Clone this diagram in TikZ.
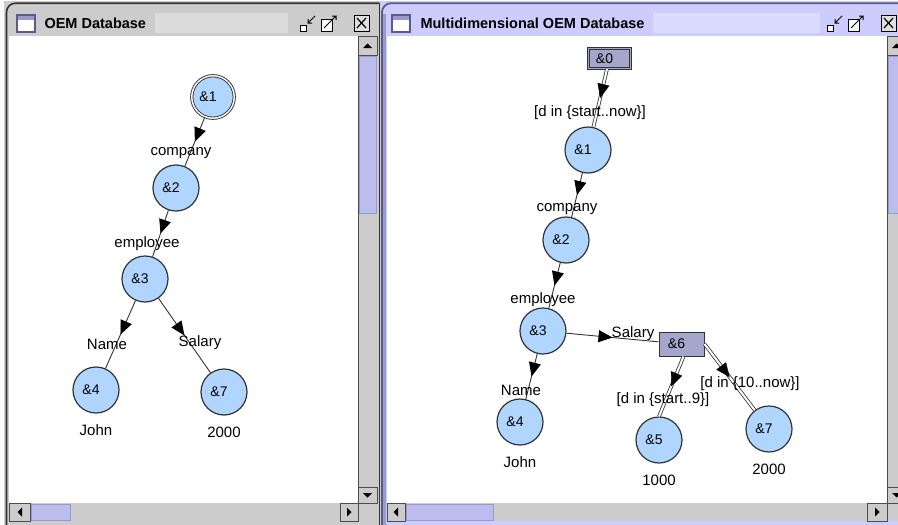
\documentclass[tikz,border=0pt]{standalone}
\usepackage{fontspec}
\setmainfont{Liberation Sans}
\usetikzlibrary{positioning,arrows.meta,decorations.markings}
\definecolor{nodeblue}{RGB}{176,214,255}
\definecolor{boxgray}{RGB}{166,166,204}
\definecolor{metalgray}{RGB}{204,204,204}
\definecolor{lavender}{RGB}{204,204,255}
\definecolor{thumblav}{RGB}{188,188,238}
\definecolor{darklav}{RGB}{90,90,140}
\definecolor{midlav}{RGB}{153,153,204}
\definecolor{edgegray}{RGB}{51,51,51}

\begin{document}
\begin{tikzpicture}[
  x=1pt, y=-1pt,
  font=\fontsize{15}{18}\selectfont,
  obj/.style={circle, draw=edgegray, line width=1.2pt, fill=nodeblue, minimum size=46pt, inner sep=0pt,
    font=\fontsize{14}{16}\selectfont, execute at end node={\hspace{10pt}}},
  rootobj/.style={obj, double=white, double distance=1.4pt, line width=0.9pt, minimum size=42.5pt},
  cpx/.style={rectangle, draw=edgegray, line width=1pt, fill=boxgray, minimum width=45pt, minimum height=24pt,
    inner sep=0pt, font=\fontsize{14}{16}\selectfont, execute at end node={\hspace{10pt}}},
  rootcpx/.style={cpx, double=boxgray, double distance=1.4pt, line width=0.8pt, minimum width=42pt, minimum height=20pt},
  lbl/.style={inner sep=0pt},
  midtip/.style={postaction={decorate}, decoration={markings,
    mark=at position 0.5 with {\arrow[black]{Triangle[length=14pt, width=12pt]}}}},
  link/.style={draw=edgegray, line width=0.9pt, midtip},
  tlink/.style={draw=edgegray, double=white, double distance=2pt, line width=0.8pt},
  btn/.style={draw=gray!60!black, line width=0.6pt, fill=metalgray},
  thumb/.style={draw=midlav, line width=0.8pt, fill=thumblav}
]
\useasboundingbox (0,0) rectangle (898,525);
\clip (0,0) rectangle (898,525);
\fill[white] (0,0) rectangle (898,525);

% left window frame
\fill[metalgray] (4,1) rectangle (381,525);
\draw[edgegray, line width=1.6pt, rounded corners=9pt] (6.5,525) |- (379,3.2);
\draw[edgegray, line width=1pt] (379,3) -- (379,525);
\fill[white] (9,36) rectangle (358,503);

% right window frame
\fill[lavender] (381,1) rectangle (898,525);
\draw[darklav, line width=1.8pt, rounded corners=9pt] (382,525) |- (898,3.2);
\fill[midlav] (383,14) rectangle (386,525);
\fill[white] (387,36) rectangle (887,503);

% title bars
\fill[metalgray!70!white] (155,13) rectangle (288,33);
\fill[lavender!70!white] (653,13) rectangle (820,33);
\foreach \ix in {17,392} {
  \draw[darklav, line width=1.2pt, fill=white] (\ix,15) rectangle ++(18,17);
  \fill[midlav] (\ix+0.6,15.6) rectangle ++(16.8,4);
}
\node[anchor=west, font=\bfseries\fontsize{14.5}{17}\selectfont] (ltitle) at (41,23.5) {OEM Database};
\node[anchor=west, font=\bfseries\fontsize{14.5}{17}\selectfont] (rtitle) at (417,23.5) {Multidimensional OEM Database};
\foreach \dx in {0,527} {
  \draw[black, line width=1pt, fill=white] (300+\dx,25) rectangle ++(6,6);
  \draw[black, line width=1pt] (315+\dx,16) -- (308+\dx,23) -- (308+\dx,19) (308+\dx,23) -- (312+\dx,23);
  \draw[black, line width=1pt, fill=white] (321+\dx,19) rectangle ++(11,12);
  \draw[black, line width=1pt] (324+\dx,28) -- (336+\dx,16) -- (332+\dx,16) (336+\dx,16) -- (336+\dx,20);
  \draw[black, line width=1pt, fill=metalgray!60!white] (354+\dx,15) rectangle ++(15,16);
  \draw[black, line width=1.2pt] (357+\dx,18) -- ++(9,10) (366+\dx,18) -- ++(-9,10);
}

% left scrollbars
\fill[metalgray] (358,36) rectangle (377,503);
\draw[gray!60!black, line width=0.6pt] (358,36) -- (358,503);
\draw[btn] (358,36) rectangle (377,55);
\draw[thumb] (359,56) rectangle (376,213);
\draw[btn] (358,487) rectangle (377,503);
\fill[metalgray] (9,503) rectangle (358,521);
\draw[btn] (9,503) rectangle (30,521);
\draw[thumb] (31,504) rectangle (70,520);
\draw[btn] (340,503) rectangle (358,521);
\fill (363,48) -- (372,48) -- (367.5,43.5) -- cycle;
\fill (363,493) -- (372,493) -- (367.5,497.5) -- cycle;
\fill (22,507.5) -- (22,516.5) -- (17.5,512) -- cycle;
\fill (347,507.5) -- (347,516.5) -- (351.5,512) -- cycle;

% right scrollbars
\fill[metalgray] (887,36) rectangle (898,521);
\draw[gray!60!black, line width=0.6pt] (887,36) -- (887,503);
\draw[btn] (887,36) rectangle (906,55);
\draw[thumb] (888,56) rectangle (905,213);
\draw[btn] (887,487) rectangle (906,503);
\fill[metalgray] (387,503) rectangle (887,521);
\draw[btn] (387,503) rectangle (405,521);
\draw[thumb] (406,504) rectangle (493,520);
\draw[btn] (867,503) rectangle (887,521);
\fill (892,48) -- (901,48) -- (896.5,43.5) -- cycle;
\fill (892,493) -- (901,493) -- (896.5,497.5) -- cycle;
\fill (398,507.5) -- (398,516.5) -- (393.5,512) -- cycle;
\fill (875,507.5) -- (875,516.5) -- (879.5,512) -- cycle;

% OEM graph
\node[rootobj] (l1) at (213,97) {\&1};
\node[obj] (l2) at (176,188) {\&2};
\node[obj] (l3) at (145,279) {\&3};
\node[obj] (l4) at (96,390) {\&4};
\node[obj] (l7) at (224,392) {\&7};
\draw[link] (l1) -- (l2);
\draw[link] (l2) -- (l3);
\draw[link] (l3) -- (l4);
\draw[link] (l3) -- (l7);
\node[lbl] (lcompany) at (181,153) {company};
\node[lbl] (lemployee) at (147,244) {employee};
\node[lbl] (lname) at (107,344) {Name};
\node[lbl] (lsalary) at (200,343) {Salary};
\node[lbl, below=11pt of l4] (ljohn) {John};
\node[lbl, below=11pt of l7] (lvalue) {2000};

% MOEM graph
\node[rootcpx] (r0) at (609.5,58.5) {\&0};
\node[obj] (r1) at (588,150) {\&1};
\node[obj] (r2) at (566,240) {\&2};
\node[obj] (r3) at (543,331) {\&3};
\node[obj] (r4) at (520,422) {\&4};
\node[cpx] (r6) at (681.5,344) {\&6};
\node[obj] (r5) at (659,440) {\&5};
\node[obj] (r7) at (769,429) {\&7};
\draw[tlink] (r0) -- (r1);
\path[midtip] (r0) -- (r1);
\draw[link] (r1) -- (r2);
\draw[link] (r2) -- (r3);
\draw[link] (r3) -- (r4);
\draw[link] (r3) -- (r6);
\draw[tlink] ([xshift=2pt]r6.south) -- (r5.north);
\path[midtip] ([xshift=2pt]r6.south) -- (r5.north);
\draw[tlink] (r6.east) -- (r7);
\path[midtip] (r6.east) -- (r7);
\node[lbl] (rstart) at (590,113) {[d in \{start..now\}]};
\node[lbl] (rcompany) at (567,209) {company};
\node[lbl] (remployee) at (543,300) {employee};
\node[lbl] (rsalary) at (633,334) {Salary};
\node[lbl] (rname) at (521,390) {Name};
\node[lbl] (rnine) at (663,400) {[d in \{start..9\}]};
\node[lbl] (rten) at (750,384) {[d in \{10..now\}]};
\node[lbl, below=11pt of r4] (rjohn) {John};
\node[lbl, below=11pt of r5] (rlow) {1000};
\node[lbl, below=11pt of r7] (rhigh) {2000};
\end{tikzpicture}
\end{document}
